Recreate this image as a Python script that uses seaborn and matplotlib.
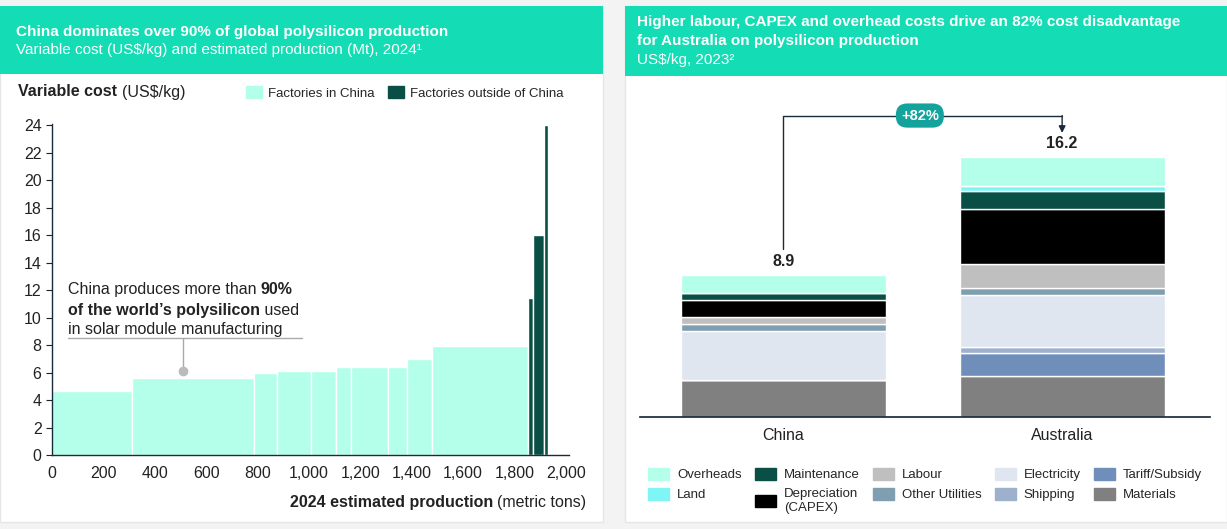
import matplotlib
matplotlib.use("Agg")
import matplotlib.pyplot as plt
import seaborn as sns
import numpy as np
from matplotlib.patches import Rectangle, Patch

sns.set_theme(style="white")
plt.rcParams['font.family'] = ['Liberation Sans', 'DejaVu Sans']

# ---- Left chart data ----
china_widths = [311, 476, 88, 133, 96, 58, 145, 76, 94, 374]
china_costs = [4.65, 5.6, 5.94, 6.1, 6.1, 6.38, 6.38, 6.38, 6.96, 7.95]
other_widths = [20, 44, 15]
other_costs = [11.45, 16.0, 24.0]
x_ticks = [0, 200, 400, 600, 800, 1000, 1200, 1400, 1600, 1800, 2000]
y_ticks = list(range(0, 25, 2))

# ---- Right chart data ----
countries = ["China", "Australia"]
components = ["Materials", "Tariff/Subsidy", "Shipping", "Electricity", "Other Utilities",
              "Labour", "Depreciation\n(CAPEX)", "Maintenance", "Land", "Overheads"]
china_vals = [2.3, 0.0, 0.0, 3.1, 0.42, 0.42, 1.1, 0.42, 0.0, 1.15]
aus_vals = [2.57, 1.46, 0.36, 3.28, 0.42, 1.53, 3.45, 1.13, 0.31, 1.8]
totals = ["8.9", "16.2"]
comp_colors = ["#808080", "#6f8fba", "#9db0cc", "#dfe6f0", "#7f9fb0",
               "#bfbfbf", "#000000", "#0a4f45", "#7ff5f5", "#b3ffe9"]

W, H = 1227, 529
fig = plt.figure(figsize=(12.27, 5.29), dpi=100, facecolor="#f3f3f3")
def fx(px): return px / W
def fy(py): return 1 - py / H

TEAL = "#14dcb4"
DARK = "#0a4f45"
LIGHT = "#b3ffe9"

for x0, x1, hb in [(0, 603, 74), (625, 1227, 76)]:
    fig.patches.append(Rectangle((fx(x0), fy(522)), fx(x1 - x0), (522 - 6) / H,
                                 transform=fig.transFigure, facecolor="white", edgecolor="#e6e6e6", zorder=-10))
    fig.patches.append(Rectangle((fx(x0), fy(hb)), fx(x1 - x0), (hb - 6) / H,
                                 transform=fig.transFigure, facecolor=TEAL, edgecolor="none", zorder=-9))

fig.text(fx(16), fy(32), "China dominates over 90% of global polysilicon production",
         color="white", fontsize=11, fontweight="bold", va="center")
fig.text(fx(16), fy(50), "Variable cost (US$/kg) and estimated production (Mt), 2024¹",
         color="white", fontsize=11, va="center")
fig.text(fx(637), fy(22), "Higher labour, CAPEX and overhead costs drive an 82% cost disadvantage",
         color="white", fontsize=11, fontweight="bold", va="center")
fig.text(fx(637), fy(41), "for Australia on polysilicon production",
         color="white", fontsize=11, fontweight="bold", va="center")
fig.text(fx(637), fy(60), "US$/kg, 2023²", color="white", fontsize=11, va="center")

# ---- Left axes ----
axL = fig.add_axes([fx(52), fy(455), fx(517), (455 - 124) / H])
axL.patch.set_alpha(0)
lefts = np.concatenate([[0], np.cumsum(china_widths)[:-1]])
axL.bar(lefts, china_costs, width=china_widths, align="edge", color=LIGHT,
        edgecolor="white", linewidth=1)
start = sum(china_widths)
olefts = start + np.concatenate([[0], np.cumsum(other_widths)[:-1]])
axL.bar(olefts, other_costs, width=other_widths, align="edge", color=DARK,
        edgecolor="white", linewidth=1)
axL.set_xlim(0, 2012)
axL.set_ylim(0, 24.1)
axL.set_xticks(x_ticks)
axL.set_xticklabels([f"{v:,}" for v in x_ticks])
axL.set_yticks(y_ticks)
for s in ["top", "right"]:
    axL.spines[s].set_visible(False)
for s in ["left", "bottom"]:
    axL.spines[s].set_color("#1b2a3a")
    axL.spines[s].set_linewidth(1)
axL.tick_params(axis="both", labelsize=11.5, colors="#222222", length=4, direction="out",
                left=True, bottom=True, width=0.8)
axL.tick_params(axis="x", length=0, pad=8)

axL.plot([62, 973], [8.5, 8.5], color="#aaaaaa", lw=1)
axL.plot([510, 510], [8.5, 6.15], color="#aaaaaa", lw=1)
axL.plot([510], [6.15], "o", color="#bbbbbb", ms=6)

def rich_line(x, y, parts, size=11.5):
    prev = None
    for txt, bold in parts:
        w = "bold" if bold else "normal"
        if prev is None:
            prev = axL.text(x, y, txt, fontsize=size, fontweight=w, va="bottom", color="#222222")
        else:
            prev = axL.annotate(txt, xy=(1, 0), xycoords=prev, fontsize=size, fontweight=w,
                                va="bottom", color="#222222")
rich_line(62, 11.5, [("China produces more than ", False), ("90%", True)])
rich_line(62, 10.0, [("of the world’s polysilicon", True), (" used", False)])
rich_line(62, 8.6, [("in solar module manufacturing", False)])

fig.text(fx(18), fy(92), "Variable cost", fontsize=11.5, fontweight="bold", va="center", color="#222")
fig.text(fx(122), fy(92), "(US$/kg)", fontsize=11.5, va="center", color="#222")
fig.text(fx(586), fy(503), "(metric tons)", fontsize=11.5, va="center", ha="right", color="#222")
fig.text(fx(493), fy(503), "2024 estimated production", fontsize=11.5, fontweight="bold",
         va="center", ha="right", color="#222")
fig.legend(handles=[Patch(color=LIGHT, label="Factories in China"),
                    Patch(color=DARK, label="Factories outside of China")],
           loc="center left", bbox_to_anchor=(fx(234), fy(93)), ncol=2, frameon=False,
           fontsize=9.5, handlelength=1.2, handleheight=1.0, columnspacing=1.0, handletextpad=0.5)

# ---- Right axes ----
axR = fig.add_axes([fx(640), fy(417), fx(570), (417 - 98) / H])
axR.patch.set_alpha(0)
xpos = np.arange(len(countries))
bottom = np.zeros(2)
for comp, col, cv, av in zip(components, comp_colors, china_vals, aus_vals):
    vals = np.array([cv, av])
    axR.bar(xpos, vals, bottom=bottom, width=0.735, color=col, edgecolor="white", linewidth=1)
    bottom += vals
axR.set_xlim(-0.513, 1.53)
axR.set_ylim(0, 20)
axR.set_xticks(xpos)
axR.set_xticklabels(countries)
axR.set_yticks([])
for s in ["top", "right", "left"]:
    axR.spines[s].set_visible(False)
axR.spines["bottom"].set_color("#1b2a3a")
axR.tick_params(axis="x", labelsize=11.5, length=0, pad=8, colors="#222")
for i, (tot, lab) in enumerate(zip(bottom, totals)):
    axR.text(i, tot + 0.35, lab, ha="center", va="bottom", fontsize=11.5, fontweight="bold", color="#222")
yb = 18.9
axR.plot([0, 0, 1], [bottom[0] + 1.6, yb, yb], color="#1b2a3a", lw=1)
axR.annotate("", xy=(1, bottom[1] + 1.5), xytext=(1, yb),
             arrowprops=dict(arrowstyle="-|>", color="#1b2a3a", lw=1, mutation_scale=10,
                             shrinkA=0, shrinkB=0))
axR.text(0.49, yb, "+82%", ha="center", va="center", fontsize=10.5, fontweight="bold", color="white",
         bbox=dict(boxstyle="round,pad=0.35,rounding_size=0.8", fc="#13a39c", ec="none"))

order = [9, 8, 7, 6, 5, 4, 3, 2, 1, 0]
handles = [Patch(color=comp_colors[i], label=components[i]) for i in order]
fig.legend(handles=handles, loc="upper left", bbox_to_anchor=(fx(636), fy(456)), ncol=5,
           frameon=False, fontsize=9.5, handlelength=1.6, handleheight=1.0,
           columnspacing=1.0, handletextpad=0.6, labelspacing=0.5)

fig.savefig("out.png", dpi=100, facecolor=fig.get_facecolor())
